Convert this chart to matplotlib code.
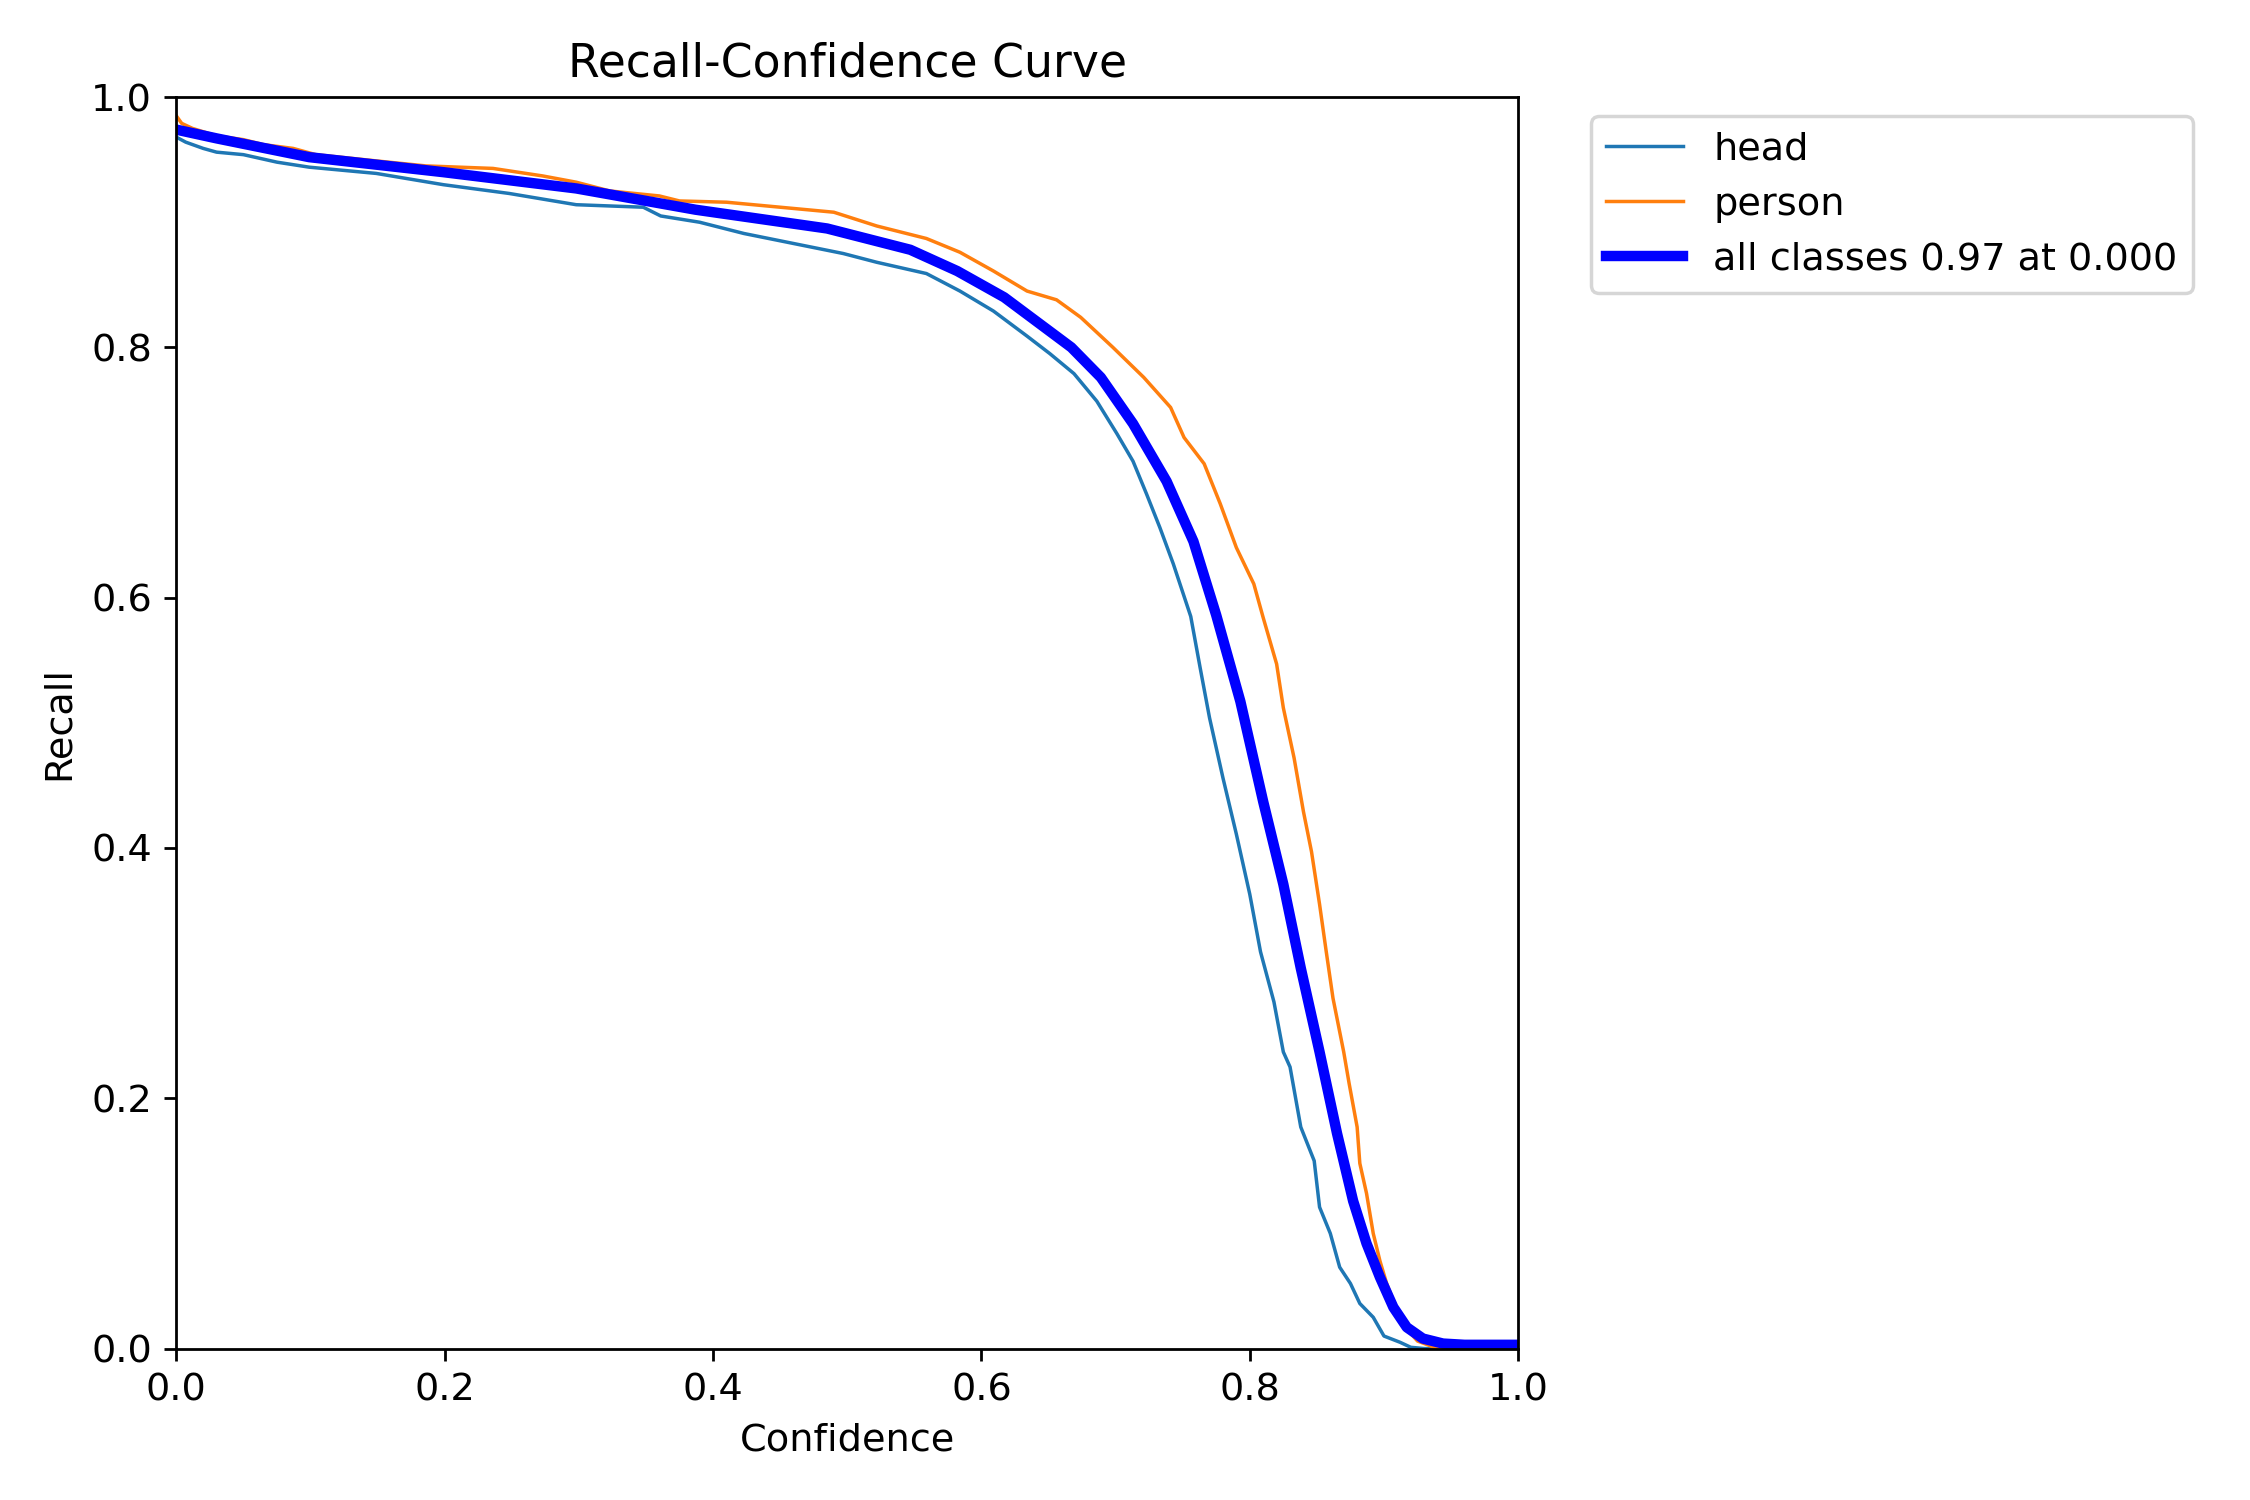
import matplotlib
matplotlib.use("Agg")
import matplotlib.pyplot as plt

plt.rcParams["font.size"] = 11

# values
head_conf = [0.0, 0.007, 0.02, 0.03, 0.05, 0.075, 0.099, 0.149, 0.199, 0.248, 0.298,
             0.348, 0.361, 0.39, 0.423, 0.46, 0.497, 0.522, 0.559, 0.584, 0.609, 0.634,
             0.651, 0.669, 0.686, 0.701, 0.713, 0.723, 0.733, 0.743, 0.756, 0.763, 0.77,
             0.78, 0.79, 0.8, 0.808, 0.818, 0.825, 0.83, 0.838, 0.848, 0.852, 0.86,
             0.867, 0.875, 0.882, 0.892, 0.9, 0.912, 0.92, 0.93, 1.0]
head_recall = [0.968, 0.964, 0.959, 0.956, 0.954, 0.948, 0.944, 0.939, 0.930, 0.923,
               0.914, 0.912, 0.905, 0.900, 0.891, 0.883, 0.875, 0.868, 0.859, 0.845,
               0.829, 0.809, 0.795, 0.779, 0.757, 0.731, 0.709, 0.683, 0.656, 0.627,
               0.585, 0.544, 0.504, 0.456, 0.411, 0.363, 0.317, 0.277, 0.237, 0.225,
               0.177, 0.150, 0.113, 0.092, 0.065, 0.052, 0.036, 0.025, 0.010, 0.005,
               0.001, 0.0, 0.0]

person_conf = [0.0, 0.004, 0.012, 0.03, 0.05, 0.065, 0.087, 0.104, 0.149, 0.186, 0.236,
               0.273, 0.298, 0.323, 0.36, 0.375, 0.41, 0.46, 0.49, 0.522, 0.559, 0.584,
               0.609, 0.634, 0.656, 0.674, 0.698, 0.721, 0.741, 0.751, 0.766, 0.778,
               0.79, 0.803, 0.81, 0.82, 0.825, 0.833, 0.84, 0.846, 0.852, 0.857, 0.862,
               0.87, 0.874, 0.88, 0.882, 0.887, 0.892, 0.897, 0.902, 0.907, 0.915,
               0.925, 0.94, 1.0]
person_recall = [0.985, 0.979, 0.975, 0.969, 0.966, 0.962, 0.959, 0.954, 0.949, 0.945,
                 0.943, 0.937, 0.932, 0.925, 0.921, 0.917, 0.916, 0.911, 0.908, 0.897,
                 0.887, 0.876, 0.861, 0.845, 0.838, 0.824, 0.800, 0.776, 0.752, 0.728,
                 0.707, 0.675, 0.640, 0.611, 0.584, 0.547, 0.512, 0.472, 0.429, 0.397,
                 0.355, 0.317, 0.280, 0.237, 0.212, 0.177, 0.148, 0.124, 0.092, 0.070,
                 0.052, 0.038, 0.018, 0.006, 0.0, 0.0]

all_conf = [0.0, 0.03, 0.099, 0.199, 0.298, 0.387, 0.485, 0.547, 0.582, 0.617, 0.667,
            0.689, 0.713, 0.738, 0.758, 0.775, 0.793, 0.81, 0.825, 0.838, 0.852, 0.865,
            0.877, 0.887, 0.897, 0.907, 0.917, 0.929, 0.944, 0.96, 1.0]
all_recall = [0.974, 0.967, 0.952, 0.940, 0.927, 0.910, 0.895, 0.878, 0.861, 0.840,
              0.800, 0.776, 0.739, 0.693, 0.645, 0.586, 0.517, 0.437, 0.371, 0.304,
              0.237, 0.172, 0.118, 0.084, 0.057, 0.033, 0.017, 0.008, 0.004, 0.003, 0.003]

fig, ax = plt.subplots(1, 1, figsize=(9, 6), tight_layout=True)

ax.plot(head_conf, head_recall, linewidth=1, label="head")
ax.plot(person_conf, person_recall, linewidth=1, label="person")
ax.plot(all_conf, all_recall, linewidth=3, color="blue", label="all classes 0.97 at 0.000")

ax.set_xlabel("Confidence")
ax.set_ylabel("Recall")
ax.set_xlim(0, 1)
ax.set_ylim(0, 1)
ax.legend(bbox_to_anchor=(1.04, 1), loc="upper left")
ax.set_title("Recall-Confidence Curve")

fig.savefig("out.png", dpi=250)
plt.close(fig)
